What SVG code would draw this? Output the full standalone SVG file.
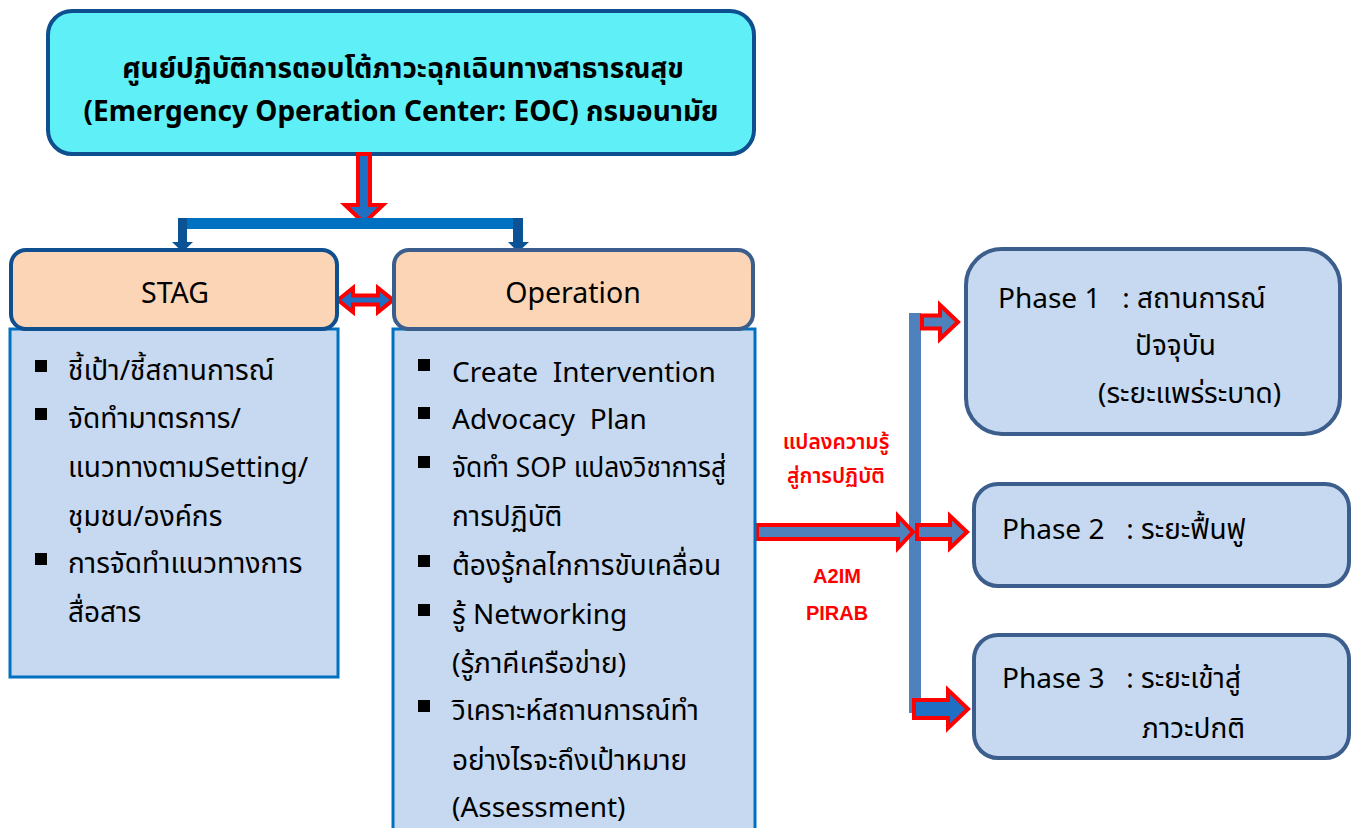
<svg xmlns="http://www.w3.org/2000/svg" width="1360" height="828" viewBox="0 0 1360 828">
<style>
text{font-family:"Noto Sans","Noto Sans Thai","Liberation Sans",sans-serif;fill:#000}
.title{font-size:28px;font-weight:bold;text-anchor:middle}
.hdr{font-size:28.5px;text-anchor:middle}
.body{font-size:28px}
.ph{font-size:28px}
.red{font-size:21px;font-weight:600;fill:#FF0000;text-anchor:middle}
.redl{font-family:"Liberation Sans",Arial,sans-serif;font-size:20px;font-weight:bold;fill:#FF0000;text-anchor:middle}
.blk{fill:#1F6FC5;stroke:#FF0000;stroke-width:4;stroke-linejoin:miter}
.blk2{fill:#4F81BD;stroke:#FF0000;stroke-width:4;stroke-linejoin:miter}
.peach{fill:#FBD5B5;stroke-width:4}
.lb{fill:#C6D9F0;stroke:#0070C0;stroke-width:3}
.phase{fill:#C6D9F0;stroke:#3B5E8C;stroke-width:4}
</style>
<g id="eoc">
<rect x="48" y="11" width="706" height="143" rx="24" fill="#5EEFF7" stroke="#0E4F8F" stroke-width="4"/>
<text class="title" x="403" y="78">ศูนย์ปฏิบัติการตอบโต้ภาวะฉุกเฉินทางสาธารณสุข</text>
<text class="title" x="401" y="121">(Emergency Operation Center: EOC) กรมอนามัย</text>
</g>
<g id="connectors">
<path class="blk" d="M358,154 L370,154 L370,205 L383,205 L364,223 L345,205 L358,205 Z"/>
<rect x="178" y="218" width="344" height="11" fill="#0070C0"/>
<path d="M178,218 L187,218 L187,242 L193,242 L182.5,252 L172,242 L178,242 Z" fill="#0B5394"/>
<path d="M513,218 L523,218 L523,242 L529,242 L518,252 L508,242 L513,242 Z" fill="#0B5394"/>
<path class="blk" stroke-width="3.5" d="M338,300 L353,288 L353,295.5 L378,295.5 L378,288 L393,300 L378,312 L378,304.5 L353,304.5 L353,312 Z"/>
<rect x="909" y="313" width="12" height="400" fill="#4F81BD"/>
<path class="blk2" d="M757,525 L898,525 L898,516 L913,532 L898,548 L898,539 L757,539 Z"/>
<path class="blk2" d="M922,315.5 L940,315.5 L940,305 L958,322 L940,339 L940,328.5 L922,328.5 Z"/>
<path class="blk2" d="M917,525 L950,525 L950,516 L967,532 L950,548 L950,539 L917,539 Z"/>
<path class="blk" d="M914,700 L948,700 L948,690 L968,709 L948,728 L948,718 L914,718 Z"/>
<text class="red" x="836" y="449">แปลงความรู้</text>
<text class="red" x="836" y="483">สู่การปฏิบัติ</text>
<text class="redl" x="837" y="583">A2IM</text>
<text class="redl" x="837" y="620">PIRAB</text>
</g>
<g id="stag">
<rect class="lb" x="10" y="329" width="328" height="348"/>
<rect class="peach" stroke="#0E4F8F" x="11" y="250" width="326" height="79" rx="15"/>
<text class="hdr" x="175" y="303">STAG</text>
<g fill="#000">
<rect x="35" y="360" width="12" height="12"/>
<rect x="35" y="408" width="12" height="12"/>
<rect x="35" y="553" width="12" height="12"/>
</g>
<text class="body" x="68" y="380">ชี้เป้า/ชี้สถานการณ์</text>
<text class="body" x="68" y="428">จัดทำมาตรการ/</text>
<text class="body" x="68" y="477">แนวทางตามSetting/</text>
<text class="body" x="68" y="526">ชุมชน/องค์กร</text>
<text class="body" x="68" y="573">การจัดทำแนวทางการ</text>
<text class="body" x="68" y="622">สื่อสาร</text>
</g>
<g id="operation">
<rect class="lb" x="393" y="329" width="362" height="510"/>
<rect class="peach" stroke="#3B5E8C" x="394" y="250" width="359" height="79" rx="15"/>
<text class="hdr" x="573" y="303">Operation</text>
<g fill="#000">
<rect x="418" y="359" width="12" height="12"/>
<rect x="418" y="407" width="12" height="12"/>
<rect x="418" y="456" width="12" height="12"/>
<rect x="418" y="555" width="12" height="12"/>
<rect x="418" y="604" width="12" height="12"/>
<rect x="418" y="700" width="12" height="12"/>
</g>
<text class="body" x="452" y="382" xml:space="preserve">Create  Intervention</text>
<text class="body" x="452" y="429" xml:space="preserve">Advocacy  Plan</text>
<text class="body" x="452" y="477" textLength="274" lengthAdjust="spacingAndGlyphs">จัดทำ SOP แปลงวิชาการสู่</text>
<text class="body" x="452" y="526">การปฏิบัติ</text>
<text class="body" x="452" y="575">ต้องรู้กลไกการขับเคลื่อน</text>
<text class="body" x="452" y="624">รู้ Networking</text>
<text class="body" x="452" y="673">(รู้ภาคีเครือข่าย)</text>
<text class="body" x="452" y="720">วิเคราะห์สถานการณ์ทำ</text>
<text class="body" x="452" y="770">อย่างไรจะถึงเป้าหมาย</text>
<text class="body" x="452" y="817">(Assessment)</text>
</g>
<g id="phase1">
<rect class="phase" x="966" y="249" width="374" height="185" rx="36"/>
<text class="ph" x="998" y="308" xml:space="preserve">Phase 1   : สถานการณ์</text>
<text class="ph" x="1135" y="355">ปัจจุบัน</text>
<text class="ph" x="1098" y="403">(ระยะแพร่ระบาด)</text>
</g>
<g id="phase2">
<rect class="phase" x="974" y="484" width="375" height="102" rx="24"/>
<text class="ph" x="1002" y="539" xml:space="preserve">Phase 2   : ระยะฟื้นฟู</text>
</g>
<g id="phase3">
<rect class="phase" x="974" y="635" width="375" height="123" rx="24"/>
<text class="ph" x="1002" y="688" xml:space="preserve">Phase 3   : ระยะเข้าสู่</text>
<text class="ph" x="1142" y="738">ภาวะปกติ</text>
</g>
</svg>
